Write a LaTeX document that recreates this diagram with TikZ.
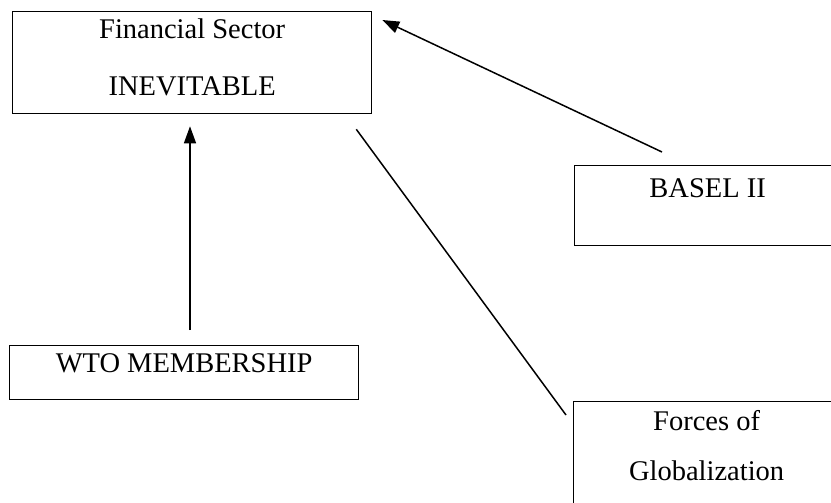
\documentclass[tikz,border=0pt]{standalone}
\usepackage{fontspec}
\setmainfont{Liberation Serif}
\usetikzlibrary{arrows.meta,calc}
\begin{document}
\begin{tikzpicture}[x=1pt,y=-1pt,
  box/.style={draw=black,line width=1.3pt,rectangle,anchor=north west,
    inner xsep=0pt,inner ysep=0pt,font=\fontsize{28.5}{57}\selectfont},
  link/.style={draw=black,line width=1.5pt},
  arrowlink/.style={link,-{Triangle[length=17pt,width=12pt]}}]
  \useasboundingbox (0,0) rectangle (831,503);
  \fill[white] (0,0) rectangle (831,503);

  % boxes
  \node[box,minimum width=359pt,minimum height=102pt,text height=27pt,text depth=75pt]
    (fin) at (12,11)
    {\begin{tabular}[t]{@{}c@{}}Financial Sector\\INEVITABLE\end{tabular}};
  \node[box,minimum width=349pt,minimum height=54pt,text height=27pt,text depth=27pt]
    (wto) at (9,345) {WTO MEMBERSHIP};
  \node[box,minimum width=266pt,minimum height=80pt,text height=32pt,text depth=48pt]
    (basel) at (574,165) {BASEL II};
  \node[box,minimum width=266pt,minimum height=120pt,text height=29pt,text depth=91pt,
        font=\fontsize{28.5}{50}\selectfont]
    (glob) at (573,401)
    {\begin{tabular}[t]{@{}c@{}}Forces of\\Globalization\end{tabular}};

  % connectors
  \coordinate (vx) at (190,0);
  \draw[arrowlink,shorten <=15pt,shorten >=12pt] (wto.north -| vx) -- (fin.south -| vx);
  \draw[arrowlink] ($(basel.north west)+(88,-13)$) -- ($(fin.north east)+(10,9)$);
  \draw[link] ($(fin.south east)+(-16,15)$) -- ($(glob.north west)+(-7,14)$);
\end{tikzpicture}
\end{document}
